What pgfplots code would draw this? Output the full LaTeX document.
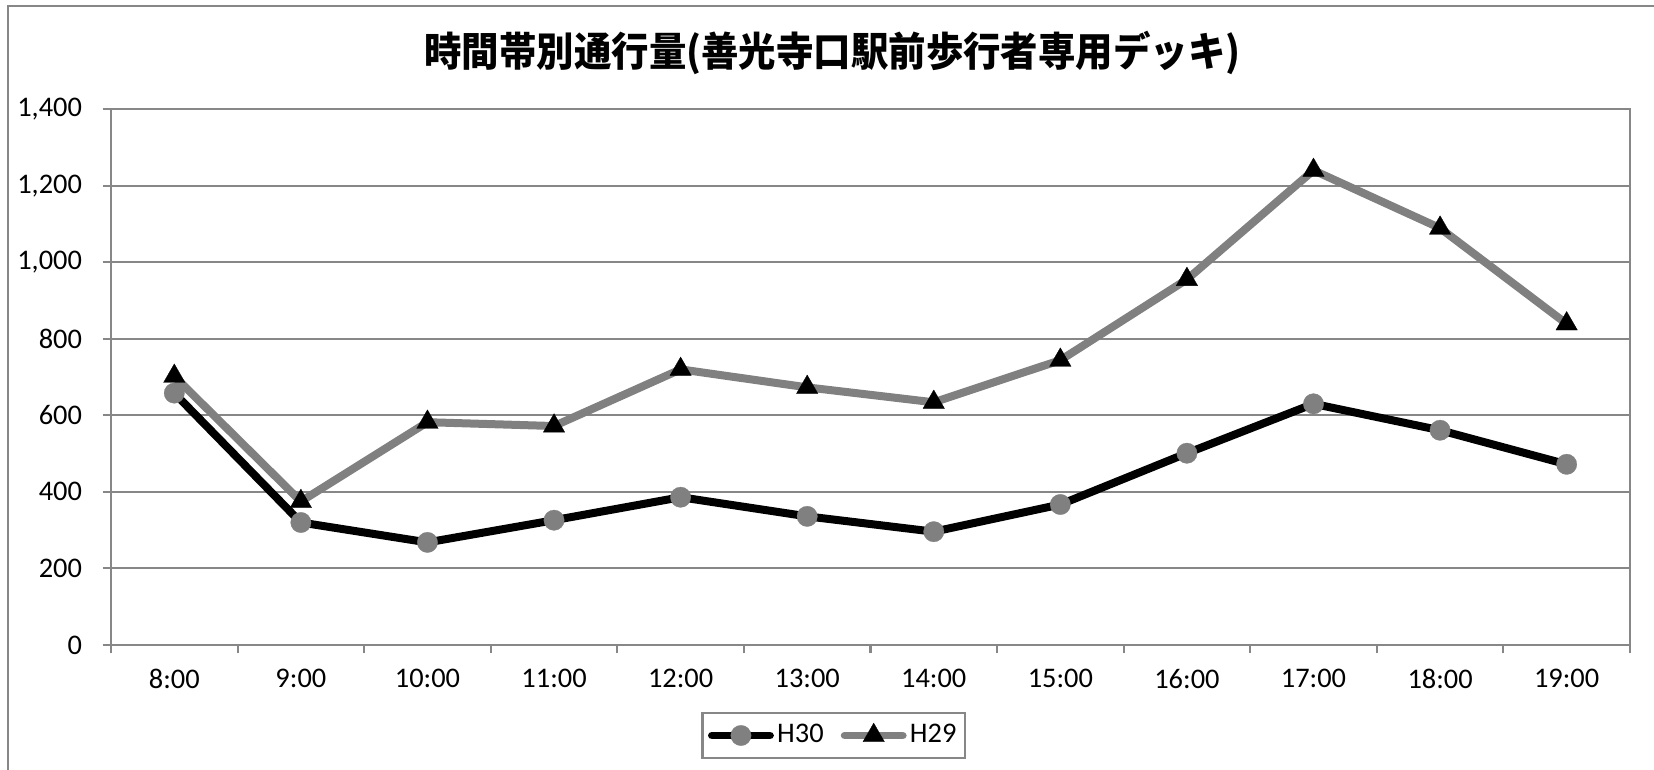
\documentclass[border=0pt]{standalone}
\usepackage{pgfplots}
\pgfplotsset{compat=1.18}
\usepackage{fontspec}
\setmainfont{Carlito}
\newfontfamily\cjk{Noto Sans CJK JP}
\definecolor{gridgray}{HTML}{878787}
\definecolor{linegray}{HTML}{808080}

\pgfplotstableread{
x H30 H29
0 658 702
1 320 375
2 268 582
3 326 572
4 386 720
5 336 673
6 296 634
7 367 744
8 501 955
9 630 1240
10 561 1089
11 472 839
}\datatable

\begin{document}
\begin{tikzpicture}
\useasboundingbox (0,0) rectangle (600pt,279.3pt);
\fill[white] (0,0) rectangle (600pt,279.3pt);
\draw[gridgray, line width=0.8pt] (2.9pt,0) -- (2.9pt,277.1pt) -- (600pt,277.1pt);
\node[font=\cjk\bfseries\fontsize{14.6}{16}\selectfont] at (302pt,260pt) {\scalebox{0.93}[1]{時間帯別通行量(善光寺口駅前歩行者専用デッキ)}};
\begin{axis}[
  at={(40.27pt,45.33pt)}, anchor=south west,
  scale only axis, width=551pt, height=194.4pt,
  xmin=-0.5, xmax=11.5, ymin=0, ymax=1400,
  ytick={0,200,...,1400},
  xtick={-0.5,0.5,...,11.5},
  xticklabels={8:00,9:00,10:00,11:00,12:00,13:00,14:00,15:00,16:00,17:00,18:00,19:00,{}},
  x tick label style={xshift=22.96pt, yshift=-2.2pt},
  xtick pos=bottom, ytick pos=left,
  tick align=outside, major tick length=3pt,
  tick style={gridgray, line width=0.75pt},
  axis line style={gridgray, line width=0.75pt},
  ymajorgrids, grid style={gridgray, line width=0.75pt},
  tick label style={font=\fontsize{10.3}{12}\selectfont, text=black},
  yticklabel style={/pgf/number format/1000 sep={,}, xshift=-4pt},
  /pgf/number format/assume math mode=true,
  legend style={at={(axis description cs:0.4759,-0.1689)}, anchor=center,
    legend columns=2, draw=gridgray, line width=0.75pt,
    font=\fontsize{10.3}{12}\selectfont, inner xsep=2pt, inner ysep=2pt,
    nodes={inner xsep=1.2pt},
    /tikz/every even column/.append style={column sep=5pt}},
  legend image code/.code={\draw[#1, line cap=round] (0pt,0pt) -- (21pt,0pt);
     \draw[#1] plot coordinates {(10.5pt,0pt)};},
  legend cell align=left,
]
\addplot[black, line width=2.9pt, line join=round, mark=*, mark size=3.7pt,
  mark options={fill=linegray, draw=linegray, line width=0.1pt}] table[x=x, y=H30] {\datatable};
\addlegendentry{H30}
\addplot[linegray, line width=2.9pt, line join=round, mark=triangle*, mark size=4.5pt,
  mark options={fill=black, draw=black, line width=0.1pt}] table[x=x, y=H29] {\datatable};
\addlegendentry{H29}
\end{axis}
\end{tikzpicture}
\end{document}
